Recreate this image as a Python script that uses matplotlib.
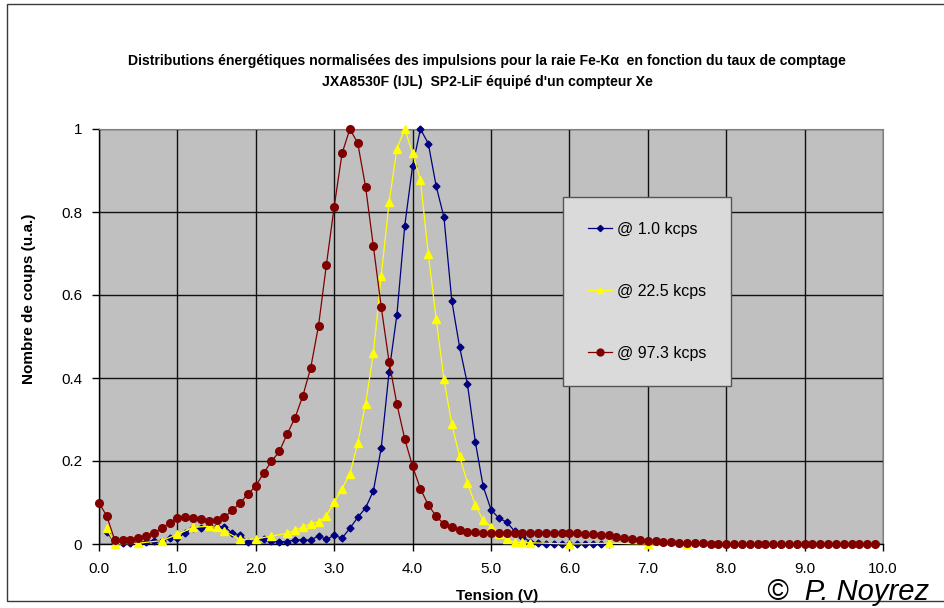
import numpy as np
import matplotlib
matplotlib.use('Agg')
import matplotlib.pyplot as plt
from matplotlib.patches import Rectangle

plt.rcParams['font.family'] = ['Liberation Sans', 'DejaVu Sans']

# --- donnees ---
labels = ['@ 1.0 kcps', '@ 22.5 kcps', '@ 97.3 kcps']

x_bleu = np.round(np.arange(0.1, 6.55, 0.1), 1)
y_bleu = [0.030, 0.002, 0.002, 0.003, 0.003, 0.006, 0.008, 0.008, 0.014, 0.014,
          0.027, 0.038, 0.038, 0.043, 0.042, 0.042, 0.026, 0.022, 0.006, 0.009,
          0.012, 0.008, 0.005, 0.006, 0.010, 0.010, 0.009, 0.020, 0.011, 0.021,
          0.014, 0.038, 0.064, 0.087, 0.128, 0.232, 0.415, 0.553, 0.767, 0.911,
          1.000, 0.965, 0.863, 0.787, 0.586, 0.474, 0.385, 0.246, 0.139, 0.083,
          0.062, 0.053, 0.031, 0.017, 0.006, 0.002, 0.001, 0.001, 0.001, 0.001,
          0.001, 0.001, 0.001, 0.001, 0.000]

x_jaune = [0.1, 0.2, 0.5, 0.8, 1.0, 1.2, 1.4, 1.5, 1.6, 1.8,
           2.0, 2.2, 2.4, 2.5, 2.6, 2.7, 2.8, 2.9, 3.0, 3.1,
           3.2, 3.3, 3.4, 3.5, 3.6, 3.7, 3.8, 3.9, 4.0, 4.1,
           4.2, 4.3, 4.4, 4.5, 4.6, 4.7, 4.8, 4.9, 5.0, 5.1,
           5.2, 5.3, 5.4, 5.5, 6.0, 6.5, 7.0, 7.5]
y_jaune = [0.038, 0.000, 0.002, 0.008, 0.023, 0.040, 0.043, 0.040, 0.031, 0.011,
           0.012, 0.019, 0.026, 0.033, 0.041, 0.049, 0.053, 0.068, 0.101, 0.133,
           0.169, 0.243, 0.338, 0.460, 0.646, 0.823, 0.953, 1.000, 0.941, 0.877,
           0.699, 0.543, 0.397, 0.288, 0.211, 0.147, 0.094, 0.057, 0.042, 0.025,
           0.011, 0.004, 0.004, 0.003, 0.000, 0.002, 0.000, 0.000]

x_rouge = np.round(np.arange(0.0, 9.95, 0.1), 1)
y_rouge = [0.099, 0.067, 0.010, 0.010, 0.010, 0.015, 0.020, 0.027, 0.038, 0.051,
           0.062, 0.066, 0.062, 0.060, 0.055, 0.057, 0.065, 0.081, 0.099, 0.120,
           0.140, 0.171, 0.199, 0.223, 0.265, 0.304, 0.357, 0.424, 0.526, 0.672,
           0.813, 0.941, 1.000, 0.966, 0.861, 0.717, 0.571, 0.439, 0.337, 0.253,
           0.187, 0.133, 0.094, 0.067, 0.048, 0.040, 0.033, 0.029, 0.028, 0.027,
           0.027, 0.027, 0.027, 0.027, 0.027, 0.027, 0.027, 0.027, 0.027, 0.026,
           0.026, 0.026, 0.025, 0.024, 0.022, 0.021, 0.018, 0.015, 0.012, 0.010,
           0.007, 0.007, 0.005, 0.004, 0.003, 0.003, 0.002, 0.002, 0.001, 0.001,
           0.001, 0.001, 0.001, 0.001, 0.001, 0.001, 0.001, 0.001, 0.001, 0.001,
           0.001, 0.001, 0.001, 0.001, 0.001, 0.001, 0.001, 0.001, 0.001, 0.001]

x_ticks = [0, 1, 2, 3, 4, 5, 6, 7, 8, 9, 10]
x_ticklabels = ['0.0', '1.0', '2.0', '3.0', '4.0', '5.0', '6.0', '7.0', '8.0', '9.0', '10.0']
y_ticks = [0, 0.2, 0.4, 0.6, 0.8, 1.0]
y_ticklabels = ['0', '0.2', '0.4', '0.6', '0.8', '1']

fig = plt.figure(figsize=(9.44, 6.08), dpi=100)
ax = fig.add_axes([99/944, 1-544/608, 784/944, 415/608])
ax.set_facecolor('#C0C0C0')

# cadre exterieur
fig.patches.append(Rectangle((7/944, 1-601/608), 1.2, 597/608, transform=fig.transFigure,
                             fill=False, edgecolor='#3a3a3a', linewidth=1.0))

ax.plot(x_bleu, y_bleu, color='#000080', marker='D', markersize=3.5, linewidth=0.9,
        label=labels[0], clip_on=False, zorder=3)
ax.plot(x_jaune, y_jaune, color='#FFFF00', marker='^', markersize=5.5, linewidth=0.9,
        label=labels[1], clip_on=False, zorder=4)
ax.plot(x_rouge, y_rouge, color='#800000', marker='o', markersize=5.5, linewidth=0.9,
        label=labels[2], clip_on=False, zorder=5)

ax.set_xlim(0, 10)
ax.set_ylim(0, 1)
ax.set_xticks(x_ticks)
ax.set_xticklabels(x_ticklabels)
ax.set_yticks(y_ticks)
ax.set_yticklabels(y_ticklabels)
ax.tick_params(axis='both', direction='out', length=5, width=1, labelsize=11,
               colors='black')
ax.tick_params(axis='x', pad=8)
ax.tick_params(axis='y', pad=7)
ax.grid(True, color='#111111', linewidth=1.0)
ax.set_axisbelow(True)
for s in ['top', 'right']:
    ax.spines[s].set_color('#808080')
for s in ['left', 'bottom']:
    ax.spines[s].set_color('black')
    ax.spines[s].set_linewidth(1.0)

ax.set_xlabel('Tension (V)', fontsize=11, fontweight='bold')
ax.xaxis.set_label_coords(0.508, -0.108)
ax.set_ylabel('Nombre de coups (u.a.)', fontsize=11, fontweight='bold')
ax.yaxis.set_label_coords(-0.08, 0.59)

fig.text(487/944, 1-61/608, "Distributions énergétiques normalisées des impulsions pour la raie Fe-K\u03b1  en fonction du taux de comptage",
         ha='center', va='center', fontsize=10.1, fontweight='bold')
fig.text(487/944, 1-82/608, "JXA8530F (IJL)  SP2-LiF équipé d'un compteur Xe",
         ha='center', va='center', fontsize=10.1, fontweight='bold')

leg = ax.legend(loc='upper left', bbox_to_anchor=(0.592, 0.836), borderaxespad=0,
                fontsize=11.5, labelspacing=2.95, borderpad=1.55, handlelength=1.5,
                handletextpad=0.3, fancybox=False, framealpha=1, markerscale=0.9)
leg.get_frame().set_facecolor('#DADADA')
leg.get_frame().set_edgecolor('#555555')
leg.get_frame().set_linewidth(1.0)

fig.text(767/944, 1-600/608, '\u00a9  P. Noyrez', ha='left', va='baseline',
         fontsize=21, fontstyle='italic')

fig.savefig('out.png', dpi=100)
